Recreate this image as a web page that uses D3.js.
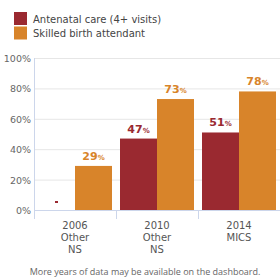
<!DOCTYPE html>
<html>
<head>
<meta charset="utf-8">
<script src="https://cdn.jsdelivr.net/npm/d3@7"></script>
<style>
  body { margin: 0; background: #fff; }
  svg { font-family: "DejaVu Sans", Verdana, sans-serif; }
</style>
</head>
<body>
<div id="chart"></div>
<script>
// data
const years = ["2006", "2010", "2014"];
const sources = [["Other", "NS"], ["Other", "NS"], ["MICS"]];
const seriesNames = ["Antenatal care (4+ visits)", "Skilled birth attendant"];
const antenatal = [null, 47, 51];
const skilled = [29, 73, 78];
const yTicks = [0, 20, 40, 60, 80, 100];
const colors = ["#9a2930", "#d8842a"];

const W = 280, H = 278;
const margin = {top: 58, right: 0, bottom: 68, left: 34};
const width = W - margin.left - margin.right,
    height = H - margin.top - margin.bottom;

const svg = d3.select("#chart").append("svg")
    .attr("width", W)
    .attr("height", H);

// legend
const legend = svg.append("g").attr("transform", "translate(14,12)");
seriesNames.forEach(function(name, i) {
  legend.append("rect")
      .attr("x", 0).attr("y", i * 14.5)
      .attr("width", 13).attr("height", 13)
      .attr("fill", colors[i]);
  legend.append("text")
      .attr("x", 19).attr("y", i * 14.5 + 10.5)
      .attr("font-size", 10)
      .attr("fill", "#444")
      .text(name);
});

const g = svg.append("g")
    .attr("transform", "translate(" + margin.left + "," + margin.top + ")");

const x = d3.scaleBand().domain(years).range([0, width]);
const xs = d3.scaleBand().domain([0, 1]).range([4, x.bandwidth() - 4]);
const y = d3.scaleLinear().domain([0, 100]).range([height, 0]);

// gridlines
g.selectAll(".grid")
  .data(yTicks.slice(1))
  .join("line")
    .attr("x1", 0).attr("x2", width)
    .attr("y1", d => y(d) + 0.5).attr("y2", d => y(d) + 0.5)
    .attr("stroke", "#e6e6e6");

// y labels
g.selectAll(".ylab")
  .data(yTicks)
  .join("text")
    .attr("x", -3).attr("y", d => y(d) + 4)
    .attr("text-anchor", "end")
    .attr("font-size", 9.5)
    .attr("fill", "#666")
    .text(d => d + "%");

// bars
const series = [antenatal, skilled];
series.forEach(function(vals, s) {
  const grp = g.append("g");
  vals.forEach(function(v, i) {
    const bx = x(years[i]) + xs(s);
    if (v == null) {
      // no-data marker
      grp.append("rect")
          .attr("x", bx + xs.bandwidth() / 2 - 1.5)
          .attr("y", y(0) - 9)
          .attr("width", 3).attr("height", 2)
          .attr("fill", colors[s]);
      return;
    }
    grp.append("rect")
        .attr("x", bx).attr("y", y(v))
        .attr("width", xs.bandwidth())
        .attr("height", y(0) - y(v))
        .attr("fill", colors[s]);
    const t = grp.append("text")
        .attr("x", bx + xs.bandwidth() / 2)
        .attr("y", y(v) - 6)
        .attr("text-anchor", "middle")
        .attr("fill", colors[s])
        .attr("font-weight", "bold")
        .attr("font-size", 11);
    t.append("tspan").text(v);
    t.append("tspan").attr("font-size", 7).text("%");
  });
});

// axes lines
g.append("line")
    .attr("x1", 0.5).attr("x2", 0.5)
    .attr("y1", 0).attr("y2", height)
    .attr("stroke", "#ccd6eb");
g.append("line")
    .attr("x1", 0).attr("x2", width)
    .attr("y1", height + 0.5).attr("y2", height + 0.5)
    .attr("stroke", "#ccd6eb");
// ticks at category boundaries
g.selectAll(".tick")
  .data(years)
  .join("line")
    .attr("x1", d => Math.round(x(d)) + 0.5).attr("x2", d => Math.round(x(d)) + 0.5)
    .attr("y1", height).attr("y2", height + 9)
    .attr("stroke", "#ccd6eb");

// x labels
years.forEach(function(yr, i) {
  const t = g.append("text")
      .attr("x", x(yr) + x.bandwidth() / 2)
      .attr("y", height + 19)
      .attr("text-anchor", "middle")
      .attr("font-size", 10)
      .attr("fill", "#555");
  [yr].concat(sources[i]).forEach(function(line, j) {
    t.append("tspan")
        .attr("x", x(yr) + x.bandwidth() / 2)
        .attr("dy", j === 0 ? 0 : 12)
        .text(line);
  });
});

// footer
svg.append("text")
    .attr("x", 145).attr("y", 275)
    .attr("text-anchor", "middle")
    .attr("font-family", "'Open Sans', sans-serif")
    .attr("font-size", 9)
    .attr("fill", "#666")
    .text("More years of data may be available on the dashboard.");
</script>
</body>
</html>
